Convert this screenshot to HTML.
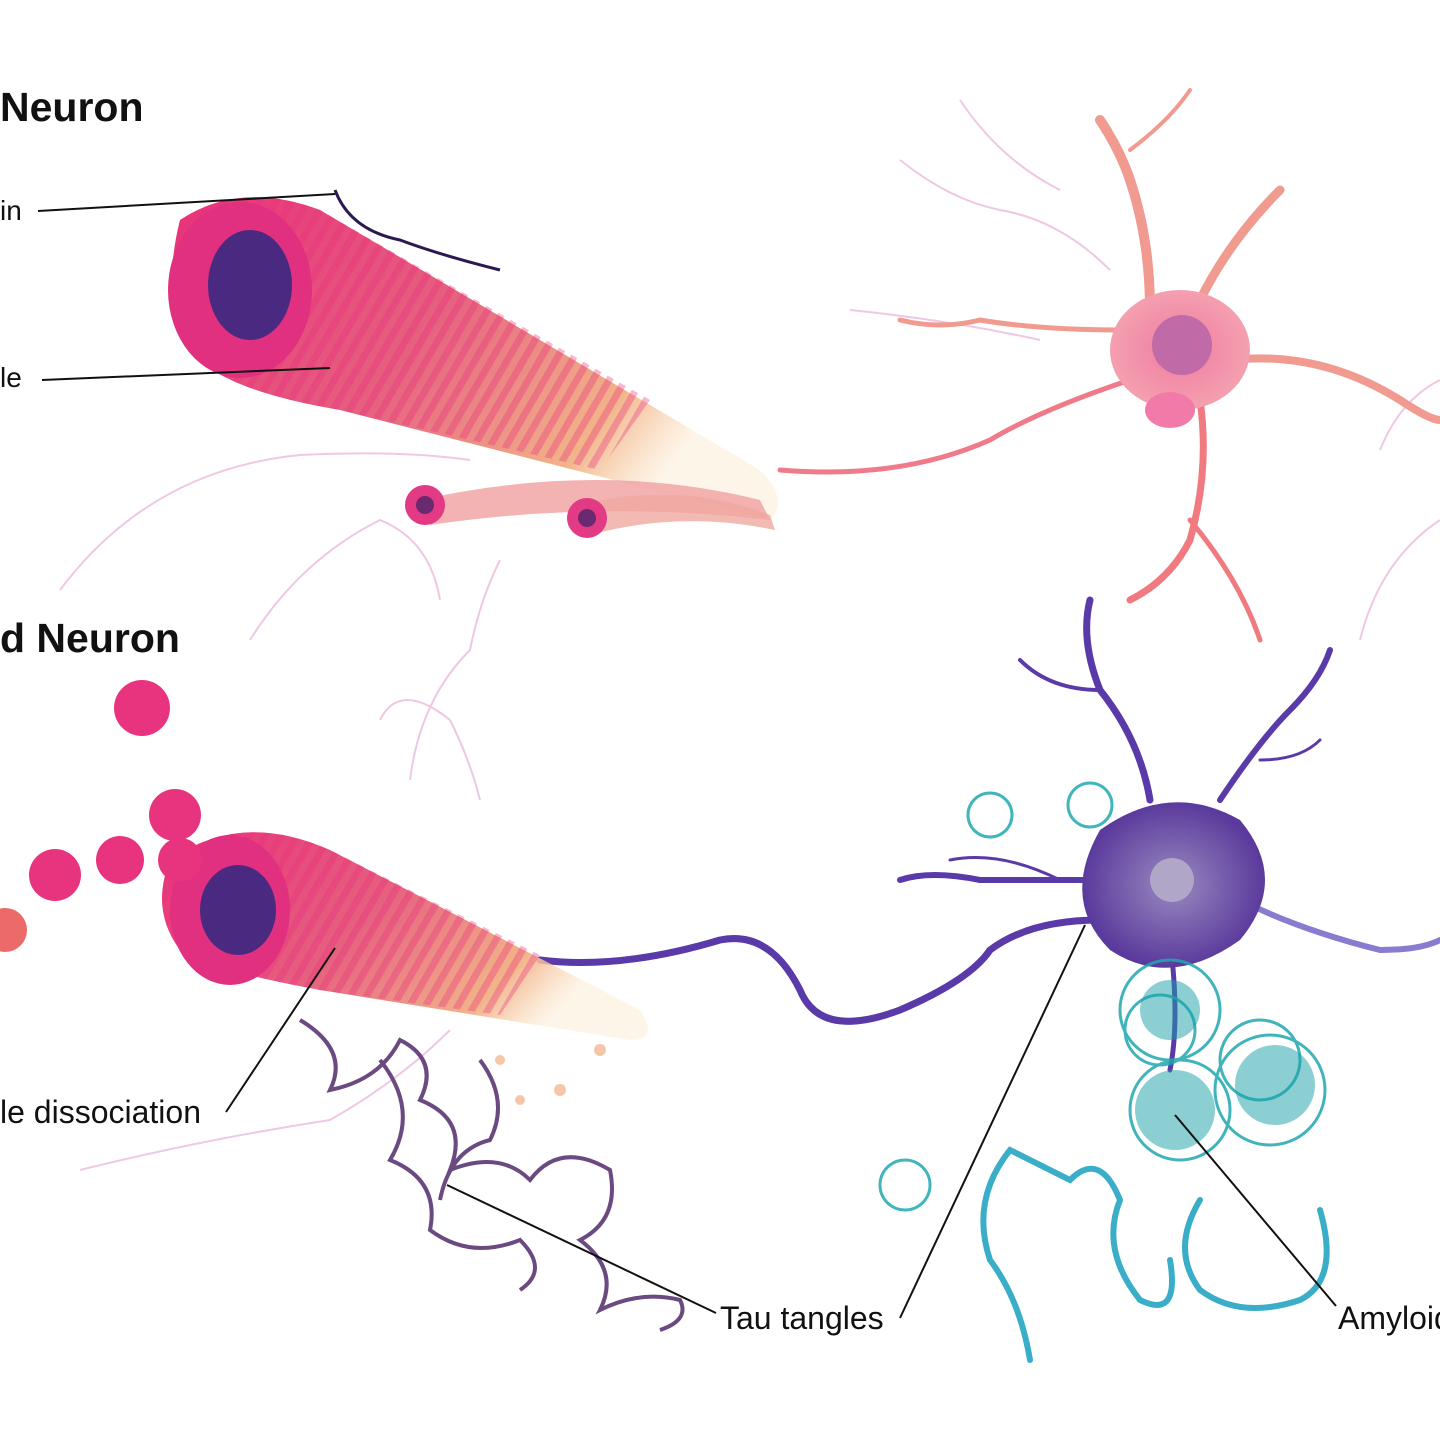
<!DOCTYPE html>
<html><head><meta charset="utf-8"><style>
html,body{margin:0;padding:0;background:#fff;}
svg{display:block}
text{font-family:"Liberation Sans",sans-serif;fill:#111}
</style></head><body>
<svg width="1440" height="1440" viewBox="0 0 1440 1440" xmlns="http://www.w3.org/2000/svg">
<defs>
<linearGradient id="tube" x1="0" y1="0" x2="1" y2="0.4">
<stop offset="0" stop-color="#e8307a"/><stop offset="0.5" stop-color="#e6607f"/><stop offset="0.85" stop-color="#f2b48a"/><stop offset="1" stop-color="#fbe6c8" stop-opacity="0.4"/>
</linearGradient>
<pattern id="stripes" width="14" height="14" patternUnits="userSpaceOnUse" patternTransform="rotate(30)">
<rect width="7" height="14" fill="#e8307a" opacity="0.35"/>
</pattern>
<radialGradient id="soma1" cx="0.5" cy="0.5" r="0.5"><stop offset="0" stop-color="#f07aa0"/><stop offset="1" stop-color="#f4a0b0"/></radialGradient>
<radialGradient id="soma2" cx="0.5" cy="0.5" r="0.5"><stop offset="0" stop-color="#9a8ac0"/><stop offset="1" stop-color="#5a3a9c"/></radialGradient>
</defs>
<g fill="none" stroke="#e8b0d8" stroke-width="2" opacity="0.7">
<path d="M60 590 Q150 470 300 455 Q400 450 470 460"/>
<path d="M250 640 Q300 560 380 520 Q430 540 440 600"/>
<path d="M410 780 Q420 700 470 650 Q480 600 500 560"/>
<path d="M80 1170 Q200 1140 330 1120 Q400 1080 450 1030"/>
<path d="M380 720 Q400 680 450 720 Q470 760 480 800"/>
<path d="M1360 640 Q1380 560 1440 520"/>
<path d="M1380 450 Q1400 400 1440 380"/>
<path d="M900 160 Q950 200 1000 210 Q1060 220 1110 270"/>
<path d="M960 100 Q1000 160 1060 190"/>
<path d="M850 310 Q950 320 1040 340"/>
</g>
<g fill="none" stroke="#f09a90" stroke-linecap="round">
<path d="M1150 310 Q1150 240 1130 180 Q1120 150 1100 120" stroke-width="10"/>
<path d="M1200 300 Q1230 240 1280 190" stroke-width="9"/>
<path d="M1130 150 Q1170 120 1190 90" stroke-width="4"/>
<path d="M1230 360 Q1320 350 1400 400 Q1430 420 1440 420" stroke-width="8"/>
<path d="M1200 400 Q1210 470 1190 540 Q1170 580 1130 600" stroke-width="7" stroke="#f07a80"/>
<path d="M1190 520 Q1240 580 1260 640" stroke-width="5" stroke="#f07a80"/>
<path d="M1120 330 Q1040 330 980 320 Q940 330 900 320" stroke-width="5"/>
<path d="M1130 380 Q1040 410 990 440 Q900 480 780 470" stroke-width="5" stroke="#ef7a8a"/>
</g>
<ellipse cx="1180" cy="350" rx="70" ry="60" fill="url(#soma1)"/>
<circle cx="1182" cy="345" r="30" fill="#c06aa8"/>
<ellipse cx="1170" cy="410" rx="25" ry="18" fill="#f27aa8"/>
<g fill="none" stroke="#5a3aa8" stroke-linecap="round">
<path d="M1150 800 Q1140 740 1100 690 Q1080 640 1090 600" stroke-width="7"/>
<path d="M1100 690 Q1050 690 1020 660" stroke-width="4"/>
<path d="M1220 800 Q1260 740 1290 710 Q1320 680 1330 650" stroke-width="6"/>
<path d="M1260 760 Q1300 760 1320 740" stroke-width="3"/>
<path d="M1120 880 Q1040 880 980 880 Q930 870 900 880" stroke-width="6"/>
<path d="M1240 900 Q1300 930 1380 950 Q1420 950 1440 940" stroke-width="6" stroke="#8a7ad0"/>
<path d="M1100 920 Q1030 920 990 950 Q970 980 900 1010 Q820 1040 800 990 Q770 930 720 940 Q620 970 540 960" stroke-width="7"/>
<path d="M1170 940 Q1180 1020 1170 1070" stroke-width="5"/>
<path d="M1060 880 Q1000 850 950 860" stroke-width="3"/>
</g>
<path d="M1100 830 Q1170 780 1240 820 Q1290 880 1240 940 Q1170 990 1110 950 Q1060 900 1100 830Z" fill="url(#soma2)"/>
<circle cx="1172" cy="880" r="22" fill="#b0a6c8"/>
<path d="M180 220 Q240 180 320 210 L760 470 Q790 500 770 520 L340 410 Q220 390 190 350 Q160 300 180 220Z" fill="url(#tube)"/>
<path d="M180 220 Q240 180 320 210 L650 400 L600 470 L340 410 Q220 390 190 350 Q160 300 180 220Z" fill="url(#stripes)"/>
<ellipse cx="240" cy="290" rx="72" ry="88" fill="#e0307f"/>
<ellipse cx="250" cy="285" rx="42" ry="55" fill="#4a2a80"/>
<path d="M420 500 Q600 460 760 500 L770 520 Q600 500 430 525Z" fill="#f0a0a0" opacity="0.8"/>
<circle cx="425" cy="505" r="20" fill="#e33a85"/><circle cx="425" cy="505" r="9" fill="#6a2a70"/>
<path d="M580 505 Q680 480 770 515 L775 530 Q680 510 590 535Z" fill="#f0a8a0" opacity="0.8"/>
<circle cx="587" cy="518" r="20" fill="#e33a85"/><circle cx="587" cy="518" r="9" fill="#6a2a70"/>
<path d="M335 190 Q350 230 400 240 Q440 255 500 270" fill="none" stroke="#2a1a50" stroke-width="3"/>
<path d="M170 860 Q240 810 330 850 L640 1010 Q660 1040 630 1040 L320 990 Q210 970 180 950 Q150 910 170 860Z" fill="url(#tube)"/>
<path d="M170 860 Q240 810 330 850 L540 955 L500 1015 L320 990 Q210 970 180 950 Q150 910 170 860Z" fill="url(#stripes)"/>
<ellipse cx="230" cy="910" rx="60" ry="75" fill="#e0307f"/>
<ellipse cx="238" cy="910" rx="38" ry="45" fill="#4a2a80"/>
<g fill="#e8347f">
<circle cx="142" cy="708" r="28"/><circle cx="175" cy="815" r="26"/><circle cx="120" cy="860" r="24"/>
<circle cx="55" cy="875" r="26"/><circle cx="5" cy="930" r="22" fill="#ec6a6a"/><circle cx="180" cy="860" r="22"/>
</g>
<g fill="#f0a070" opacity="0.6"><circle cx="500" cy="1060" r="5"/><circle cx="520" cy="1100" r="5"/><circle cx="560" cy="1090" r="6"/><circle cx="600" cy="1050" r="6"/></g>
<g fill="none" stroke="#6a4a80" stroke-width="4">
<path d="M300 1020 Q350 1050 330 1090 Q380 1080 400 1040 Q440 1060 420 1100 Q470 1120 450 1170 Q500 1150 530 1180 Q560 1140 610 1170 Q620 1220 580 1240 Q620 1270 600 1310 Q640 1290 680 1300 Q690 1320 660 1330"/>
<path d="M380 1060 Q420 1110 390 1160 Q440 1180 430 1230 Q470 1260 520 1240 Q550 1270 520 1290"/>
<path d="M480 1060 Q510 1100 490 1140 Q450 1150 440 1200"/>
</g>
<g fill="none" stroke="#20a8b0" stroke-width="3" opacity="0.85">
<circle cx="1170" cy="1010" r="50"/><circle cx="1180" cy="1110" r="50"/><circle cx="1270" cy="1090" r="55"/>
<circle cx="1160" cy="1030" r="35"/><circle cx="1260" cy="1060" r="40"/>
<circle cx="990" cy="815" r="22"/><circle cx="1090" cy="805" r="22"/><circle cx="905" cy="1185" r="25"/>
</g>
<g fill="#1aa0a8" opacity="0.5"><circle cx="1175" cy="1110" r="40"/><circle cx="1275" cy="1085" r="40"/><circle cx="1170" cy="1010" r="30"/></g>
<g fill="none" stroke="#3aaec8" stroke-width="6" stroke-linecap="round">
<path d="M1030 1360 Q1020 1300 990 1260 Q970 1200 1010 1150 Q1050 1170 1070 1180 Q1100 1150 1120 1200 Q1100 1250 1140 1300 Q1180 1320 1170 1260"/>
<path d="M1200 1200 Q1170 1250 1200 1290 Q1240 1320 1300 1300 Q1340 1280 1320 1210"/>
</g>
<g stroke="#111" stroke-width="2" fill="none">
<line x1="38" y1="211" x2="335" y2="194"/>
<line x1="42" y1="380" x2="330" y2="368"/>
<line x1="226" y1="1112" x2="335" y2="948"/>
<line x1="716" y1="1313" x2="447" y2="1185"/>
<line x1="900" y1="1318" x2="1085" y2="925"/>
<line x1="1336" y1="1306" x2="1175" y2="1115"/>
</g>
<text x="0" y="121" font-size="41" font-weight="bold">Neuron</text>
<text x="0" y="652" font-size="41" font-weight="bold">d Neuron</text>
<text x="0" y="220" font-size="28">in</text>
<text x="0" y="387" font-size="28">le</text>
<text x="0" y="1123" font-size="32">le dissociation</text>
<text x="720" y="1329" font-size="32">Tau tangles</text>
<text x="1338" y="1329" font-size="32">Amyloid</text>
</svg>
</body></html>
